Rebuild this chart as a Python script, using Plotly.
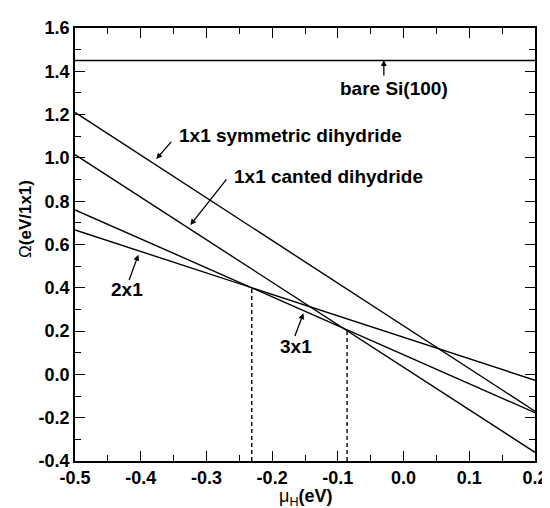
import plotly.graph_objects as go

# ---- data ----
mu_range = [-0.5, 0.2]
omega_bare = [1.45, 1.45]
omega_sym = [1.21, -0.17]
omega_canted = [1.015, -0.36]
omega_3x1 = [0.76, -0.177]
omega_2x1 = [0.667, -0.027]

mu_dash = [-0.231, -0.086]
omega_dash_top = [0.401, 0.205]

x_ticks = [-0.5, -0.4, -0.3, -0.2, -0.1, 0.0, 0.1, 0.2]
x_tick_labels = ["-0.5", "-0.4", "-0.3", "-0.2", "-0.1", "0.0", "0.1", "0.2"]
y_ticks = [-0.4, -0.2, 0.0, 0.2, 0.4, 0.6, 0.8, 1.0, 1.2, 1.4, 1.6]
y_tick_labels = ["-0.4", "-0.2", "0.0", "0.2", "0.4", "0.6", "0.8", "1.0", "1.2", "1.4", "1.6"]

FONT = "Liberation Sans, Arial, sans-serif"
LW = 1.4

fig = go.Figure()
for vals in [omega_bare, omega_sym, omega_canted, omega_3x1, omega_2x1]:
    fig.add_trace(go.Scatter(x=mu_range, y=vals, mode="lines",
                             line=dict(color="black", width=LW),
                             showlegend=False, hoverinfo="skip"))
for m, top in zip(mu_dash, omega_dash_top):
    fig.add_trace(go.Scatter(x=[m, m], y=[y_ticks[0], top], mode="lines",
                             line=dict(color="black", width=1.4, dash="4px,3px"),
                             showlegend=False, hoverinfo="skip"))

ann_font = dict(family=FONT, size=19, color="black", weight="bold")

labels = [
    ("bare Si(100)", -0.1, 1.32),
    ("1x1 symmetric dihydride", -0.3447, 1.103),
    ("1x1 canted dihydride", -0.2607, 0.915),
    ("2x1", -0.448, 0.391),
    ("3x1", -0.191, 0.128),
]
for t, x, y in labels:
    fig.add_annotation(x=x, y=y, text=t, showarrow=False, xanchor="left",
                       yanchor="middle", font=ann_font)

arrows = [
    ((-0.03, 1.452), (-0.03, 1.374)),
    ((-0.3763, 0.995), (-0.3516, 1.081)),
    ((-0.3245, 0.69), (-0.2677, 0.908)),
    ((-0.4036, 0.553), (-0.4184, 0.429)),
    ((-0.1524, 0.282), (-0.1662, 0.17)),
]
for (tx, ty), (sx, sy) in arrows:
    fig.add_annotation(x=tx, y=ty, ax=sx, ay=sy, xref="x", yref="y",
                       axref="x", ayref="y", text="", showarrow=True,
                       arrowhead=2, arrowsize=0.9, arrowwidth=1.3,
                       arrowcolor="black", standoff=0, startstandoff=0)

# axis titles
fig.add_annotation(x=-0.1075, y=0.558, xref="paper", yref="paper",
                   xanchor="center", yanchor="middle",
                   text="Ω<b>(eV/1x1)</b>", textangle=-90, showarrow=False,
                   font=dict(family=FONT, size=17, color="black"))
fig.add_annotation(x=0.503, y=-0.084, xref="paper", yref="paper",
                   xanchor="center", yanchor="middle",
                   text="μ<sub>H</sub><b>(eV)</b>", showarrow=False,
                   font=dict(family=FONT, size=18, color="black"))

axis_common = dict(showgrid=False, zeroline=False, showline=True,
                   linecolor="black", linewidth=1.5, mirror="ticks",
                   ticks="inside", ticklen=10, tickwidth=1.3, tickcolor="black",
                   ticklabeloverflow="allow",
                   tickfont=dict(family=FONT, size=18, color="black", weight="bold"))

fig.update_xaxes(range=mu_range, tickvals=x_ticks, ticktext=x_tick_labels,
                 minor=dict(dtick=0.05, tick0=0, ticks="inside", ticklen=6,
                            tickwidth=1.2, tickcolor="black", showgrid=False),
                 **axis_common)
fig.update_yaxes(range=[y_ticks[0], y_ticks[-1]], tickvals=y_ticks,
                 ticktext=y_tick_labels,
                 minor=dict(dtick=0.1, tick0=0, ticks="inside", ticklen=6,
                            tickwidth=1.2, tickcolor="black", showgrid=False),
                 **axis_common)

fig.update_layout(width=550, height=508,
                  margin=dict(l=67, r=12, t=10, b=55),
                  paper_bgcolor="white", plot_bgcolor="white",
                  showlegend=False)

fig.write_html("out.html")
